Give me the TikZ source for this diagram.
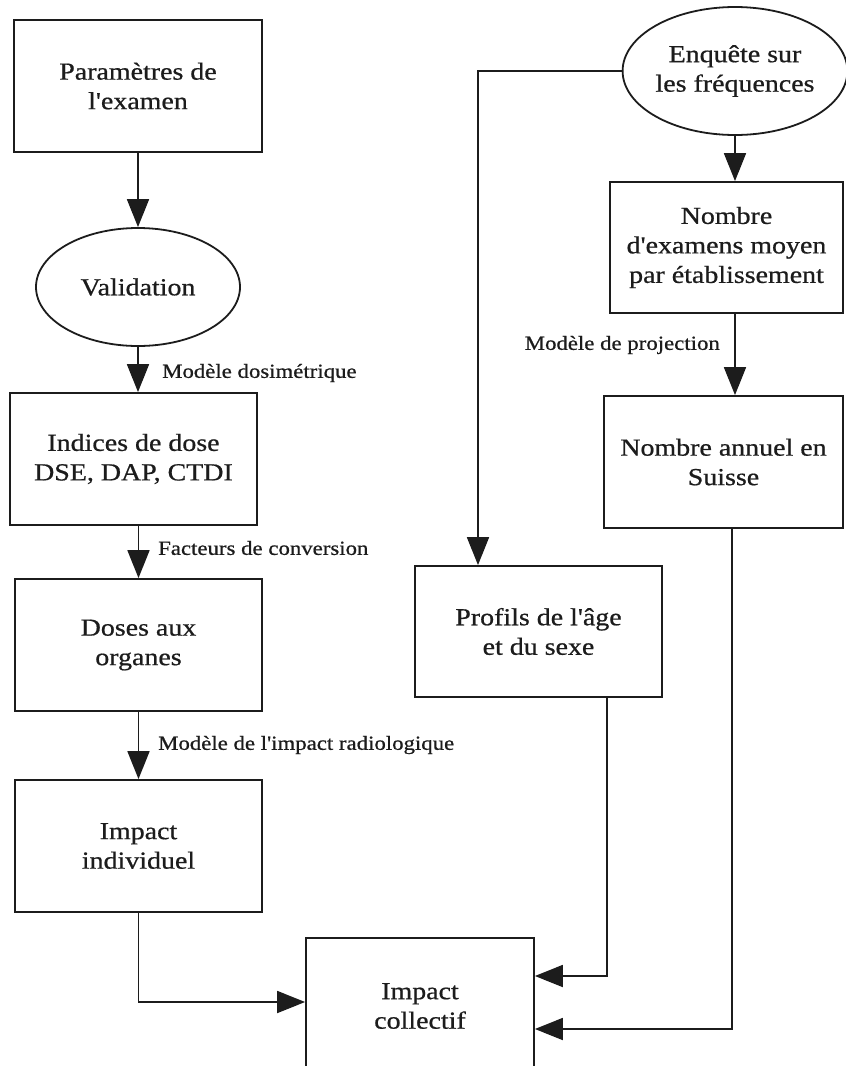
\documentclass[tikz,border=0pt]{standalone}
\usepackage{fontspec}
\newfontfamily\gserif{Liberation Serif}[FakeStretch=1.14,FakeBold=0.7]
\usetikzlibrary{arrows.meta,shapes.geometric}
\definecolor{ink}{HTML}{1C1C1C}
\newcommand{\boxfont}{\gserif\fontsize{24.5}{29.5}\selectfont}
\newcommand{\labfont}{\gserif\fontsize{20}{24}\selectfont}
\begin{document}
\begin{tikzpicture}[x=1pt,y=-1pt,
  box/.style={draw=ink, line width=1.8pt, rectangle, align=center, font=\boxfont, text=ink, inner sep=0pt},
  oval/.style={draw=ink, line width=1.8pt, ellipse, align=center, font=\boxfont, text=ink, inner sep=0pt},
  lab/.style={font=\labfont, text=ink, inner sep=0pt},
  arr/.style={draw=ink, line width=1.8pt, -{Triangle[length=28pt,width=22pt]}}]
\useasboundingbox (0,0) rectangle (846,1066);
\fill[white] (0,0) rectangle (846,1066);
% left column
\node[box, minimum width=248pt, minimum height=132pt] (param) at (138,86) {Paramètres de\\l'examen};
\node[oval, minimum width=204pt, minimum height=118pt] (valid) at (138,287) {Validation};
\node[box, minimum width=247pt, minimum height=132pt] (indices) at (133.5,459) {Indices de dose\\DSE, DAP, CTDI};
\node[box, minimum width=247pt, minimum height=132pt] (doses) at (138.5,645) {Doses aux\\organes};
\node[box, minimum width=247pt, minimum height=132pt] (indiv) at (138.5,846) {Impact\\individuel};
\node[box, minimum width=228pt, minimum height=136pt] (coll) at (420,1006) {Impact\\collectif};
% right column
\node[oval, minimum width=206pt, minimum height=128pt] (enq) at (735,71) {Enquête sur\\les fréquences};
\node[box, minimum width=233pt, minimum height=131pt] (moyen) at (726.5,247.5) {Nombre\\d'examens moyen\\par établissement};
\node[box, minimum width=239pt, minimum height=132pt] (annuel) at (723.5,462) {Nombre annuel en\\Suisse};
\node[box, minimum width=247pt, minimum height=131pt] (profils) at (538.5,631.5) {Profils de l'âge\\et du sexe};
% labels
\node[lab, anchor=west] (l1) at (162,373) {Modèle dosimétrique};
\node[lab, anchor=west] (l2) at (158,548) {Facteurs de conversion};
\node[lab, anchor=west] (l3) at (158,745) {Modèle de l'impact radiologique};
\node[lab, anchor=east] (l4) at (720,345) {Modèle de projection};
% connectors
\draw[arr] (param.south) -- (valid.north);
\draw[arr] (valid.south) -- (valid.south |- indices.north);
\draw[arr] (doses.north |- indices.south) -- (doses.north);
\draw[arr] (doses.south) -- (indiv.north);
\draw[arr] (indiv.south) |- ([yshift=4pt]coll.west);
\draw[arr] (enq.south) -- (enq.south |- moyen.north);
\draw[arr] (enq.south |- moyen.south) -- (enq.south |- annuel.north);
\draw[arr] (enq.west) -| ([xshift=-60.5pt]profils.north);
\draw[arr] ([xshift=193pt]profils.south west) |- ([yshift=30pt]coll.east);
\draw[arr] ([xshift=8.5pt]annuel.south) |- ([yshift=-23pt]coll.east);
\end{tikzpicture}
\end{document}
